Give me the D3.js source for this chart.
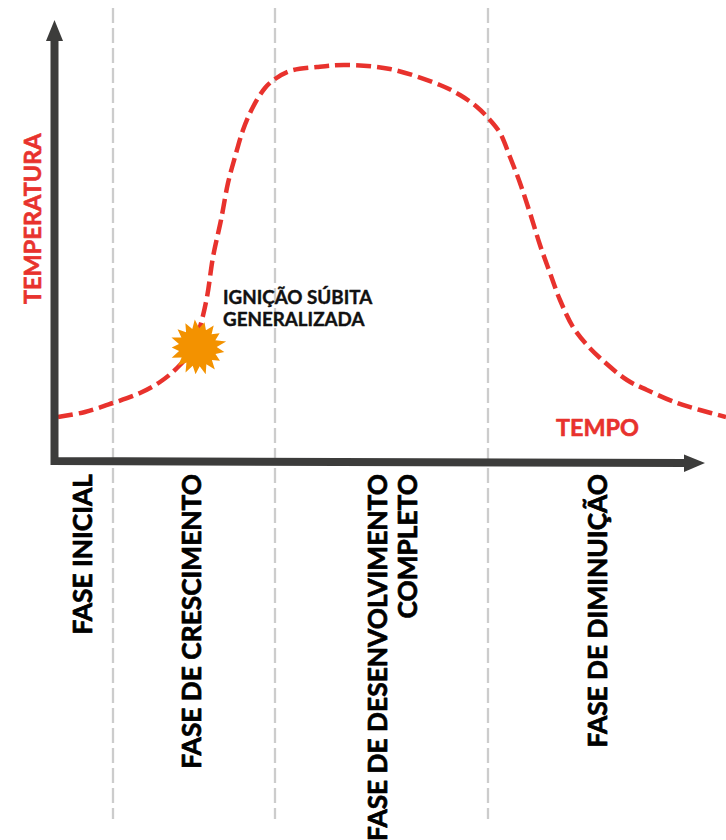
<!DOCTYPE html>
<html>
<head>
<meta charset="utf-8">
<script src="https://cdn.jsdelivr.net/npm/d3@7"></script>
<style>
  html, body { margin: 0; padding: 0; background: #fff; }
  svg { display: block; }
  text { font-family: Lato, sans-serif; font-weight: 700; paint-order: stroke; stroke-linejoin: round; }
</style>
</head>
<body>
<svg id="chart" width="726" height="840"></svg>
<script>
// Curve, arbitrary units (no ticks on the original)
const tempo = [3,30,58,85,105,122,137,145,152,158,166,173,180,188,198,210,220,235,262,290,335,385,405,422,435,445,455,465,475,485,495,505,518,532,545,572,592,622,645,671];
const temperatura = [44,49,58,68,79,93,111,134,164,204,241,278,304,331,354,373,382,390,394,396,392,376,366,354,341,328,304,278,248,216,188,161,134,116,103,81,71,58,51,44];

// Phase boundaries along the time axis
const fronteiras = [58, 220, 433];

const fases = [
  { linhas: ["FASE INICIAL"], t: 37 },
  { linhas: ["FASE DE CRESCIMENTO"], t: 146 },
  { linhas: ["FASE DE DESENVOLVIMENTO", "COMPLETO"], t: 332 },
  { linhas: ["FASE DE DIMINUIÇÃO"], t: 552 }
];

// Spike radii of the flash-over star, going round clockwise
const raiosEstrela = [28,19,26,19,27,19,26,19,29,19,27,19,26,19,28,19,28,19,27,19,28,19,27,19,28,19,26,19,28,19,27,19,27,19];

const svg = d3.select("#chart");

const x = d3.scaleLinear().domain([0, 671]).range([55, 726]);
const y = d3.scaleLinear().domain([0, 396]).range([461, 65]);

// Dashed phase dividers
svg.append("g")
  .selectAll("line")
  .data(fronteiras)
  .join("line")
  .attr("x1", d => x(d)).attr("x2", d => x(d))
  .attr("y1", 8).attr("y2", 819)
  .attr("stroke", "#cccccc")
  .attr("stroke-width", 2.3)
  .attr("stroke-dasharray", "15 5");

// Temperature curve
const linha = d3.line()
  .x((d, i) => x(tempo[i]))
  .y(d => y(d))
  .curve(d3.curveCatmullRom.alpha(0.5));

svg.append("path")
  .datum(temperatura)
  .attr("d", linha)
  .attr("fill", "none")
  .attr("stroke", "#e8322d")
  .attr("stroke-width", 4.5)
  .attr("stroke-dasharray", "15 6");

// Star
const estrela = d3.lineRadial()
  .angle((d, i) => i / raiosEstrela.length * 2 * Math.PI)
  .radius(d => d)
  .curve(d3.curveLinearClosed);

svg.append("path")
  .datum(raiosEstrela)
  .attr("d", estrela)
  .attr("transform", `translate(${x(142.7)},${y(113.7)}) rotate(-6)`)
  .attr("fill", "#f39200");

// Axes with arrow heads
const eixoCor = "#3c3c3b";
svg.append("path")
  .attr("d", "M54.5 36V461L685 463")
  .attr("fill", "none")
  .attr("stroke", eixoCor)
  .attr("stroke-width", 8);
svg.append("path").attr("d", "M54.5 20L46 41H63Z").attr("fill", eixoCor);
svg.append("path").attr("d", "M705 463L684 454.500V472Z").attr("fill", eixoCor);

// Labels
svg.append("text")
  .attr("transform", "translate(41,304) rotate(-90)")
  .attr("font-size", 23.5)
  .attr("fill", "#e8322d")
  .attr("stroke", "#e8322d")
  .attr("stroke-width", 0.6)
  .text("TEMPERATURA");

svg.append("text")
  .attr("x", 556).attr("y", 436)
  .attr("font-size", 23.4)
  .attr("fill", "#e8322d")
  .attr("stroke", "#e8322d")
  .attr("stroke-width", 0.6)
  .text("TEMPO");

svg.append("text")
  .selectAll("tspan")
  .data(["IGNIÇÃO SÚBITA", "GENERALIZADA"])
  .join("tspan")
  .attr("x", 223)
  .attr("y", (d, i) => 304 + i * 22)
  .attr("font-size", 18.8)
  .attr("fill", "#111")
  .attr("stroke", "#111")
  .attr("stroke-width", 0.4)
  .text(d => d);

const fase = svg.append("g")
  .selectAll("g")
  .data(fases)
  .join("g")
  .attr("transform", d => `translate(${x(d.t)},474) rotate(-90)`);

fase.selectAll("text")
  .data(d => d.linhas)
  .join("text")
  .attr("y", (d, i) => i * 30)
  .attr("text-anchor", "end")
  .attr("font-size", 26.3)
  .attr("fill", "#000")
  .attr("stroke", "#000")
  .attr("stroke-width", 0.7)
  .text(d => d);
</script>
</body>
</html>
